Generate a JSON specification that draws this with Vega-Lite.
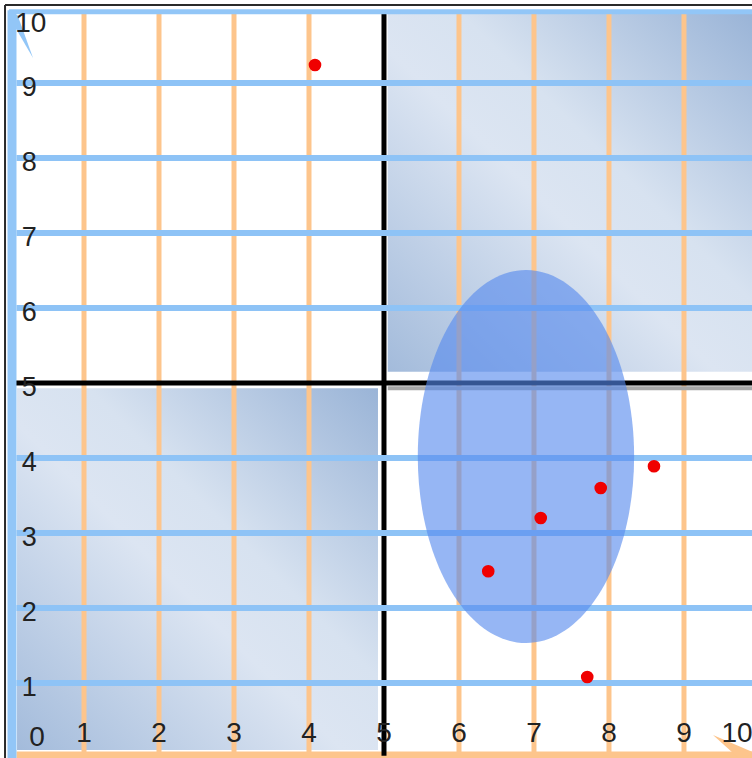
{
  "$schema": "https://vega.github.io/schema/vega-lite/v6.json",
  "width": 752,
  "height": 758,
  "padding": 0,
  "autosize": {"type": "none"},
  "background": "white",
  "config": {"view": {"stroke": null}},
  "layer": [
    {
      "data": {"values": [
        {"quadrant": "I", "x": 5.05, "x2": 9.907, "y": 5.15, "y2": 9.93},
        {"quadrant": "III", "x": 0.107, "x2": 4.92, "y": 0.107, "y2": 4.93}
      ]},
      "mark": {"type": "rect", "color": {"gradient": "linear", "x1": 0, "y1": 1, "x2": 1, "y2": 0,
        "stops": [
          {"offset": 0, "color": "#a3bbdb"},
          {"offset": 0.45, "color": "#dce5f2"},
          {"offset": 0.6, "color": "#d7e2f0"},
          {"offset": 1, "color": "#9ab4d7"}
        ]}},
      "encoding": {
        "x": {"field": "x", "type": "quantitative", "scale": {"domain": [-0.12, 9.907], "nice": false, "zero": false}, "axis": null},
        "y": {"field": "y", "type": "quantitative", "scale": {"domain": [0, 10.107], "nice": false, "zero": false}, "axis": null},
        "x2": {"field": "x2"}, "y2": {"field": "y2"}
      }
    },
    {
      "data": {"values": [{"x": 1}, {"x": 2}, {"x": 3}, {"x": 4}, {"x": 6}, {"x": 7}, {"x": 8}, {"x": 9}]},
      "mark": {"type": "rule", "color": "#fdc58c", "strokeWidth": 5},
      "encoding": {
        "x": {"field": "x", "type": "quantitative"},
        "y": {"datum": 0.05, "type": "quantitative"}, "y2": {"datum": 9.93}
      }
    },
    {
      "data": {"values": [{"y": 0.04}]},
      "mark": {"type": "rule", "color": "#fdc58c", "strokeWidth": 7},
      "encoding": {
        "y": {"field": "y", "type": "quantitative"},
        "x": {"datum": 0.1, "type": "quantitative"}, "x2": {"datum": 9.907}
      }
    },
    {
      "data": {"values": [{"x": 5}]},
      "mark": {"type": "rule", "color": "#000000", "strokeWidth": 5},
      "encoding": {
        "x": {"field": "x", "type": "quantitative"},
        "y": {"datum": 0.03, "type": "quantitative"}, "y2": {"datum": 9.93}
      }
    },
    {
      "data": {"values": [{"y": 4.93}]},
      "mark": {"type": "rule", "color": "#a8a8a8", "strokeWidth": 4},
      "encoding": {
        "y": {"field": "y", "type": "quantitative"},
        "x": {"datum": 5.05, "type": "quantitative"}, "x2": {"datum": 9.907}
      }
    },
    {
      "data": {"values": [{"y": 5}]},
      "mark": {"type": "rule", "color": "#000000", "strokeWidth": 5},
      "encoding": {
        "y": {"field": "y", "type": "quantitative"},
        "x": {"datum": 0.05, "type": "quantitative"}, "x2": {"datum": 9.907}
      }
    },
    {
      "data": {"values": [{"y": 1}, {"y": 2}, {"y": 3}, {"y": 4}, {"y": 6}, {"y": 7}, {"y": 8}, {"y": 9}]},
      "mark": {"type": "rule", "color": "#8ec3f6", "strokeWidth": 6},
      "encoding": {
        "y": {"field": "y", "type": "quantitative"},
        "x": {"datum": 0.1, "type": "quantitative"}, "x2": {"datum": 9.907}
      }
    },
    {
      "data": {"values": [{"y": 9.95}]},
      "mark": {"type": "rule", "color": "#92c6f7", "strokeWidth": 5},
      "encoding": {
        "y": {"field": "y", "type": "quantitative"},
        "x": {"datum": 0, "type": "quantitative"}, "x2": {"datum": 9.907}
      }
    },
    {
      "data": {"values": [{"x": 0.04}]},
      "mark": {"type": "rule", "color": "#92c6f7", "strokeWidth": 9},
      "encoding": {
        "x": {"field": "x", "type": "quantitative"},
        "y": {"datum": 0, "type": "quantitative"}, "y2": {"datum": 9.97}
      }
    },
    {
      "data": {"values": [{"arrow": "y", "x": 0.147, "y": 9.64}]},
      "mark": {"type": "point", "filled": true, "color": "#92c6f7", "opacity": 1, "size": 2500,
        "shape": "M-0.48,-0.8 L-0.1,-0.8 L0.52,0.92 Z"},
      "encoding": {
        "x": {"field": "x", "type": "quantitative"},
        "y": {"field": "y", "type": "quantitative"}
      }
    },
    {
      "data": {"values": [{"arrow": "x", "x": 9.68, "y": 0.133}]},
      "mark": {"type": "point", "filled": true, "color": "#fdc58c", "opacity": 1, "size": 2500,
        "shape": "M-0.88,-0.52 L0.8,0.2 L0.2,0.45 Z"},
      "encoding": {
        "x": {"field": "x", "type": "quantitative"},
        "y": {"field": "y", "type": "quantitative"}
      }
    },
    {
      "data": {"values": [{"x": 6.893, "y": 4.02}]},
      "mark": {"type": "point", "filled": true, "color": "#5589ee", "opacity": 0.62, "size": 139129,
        "shape": "M0.58,0 C0.58,0.5523 0.3203,1 0,1 C-0.3203,1 -0.58,0.5523 -0.58,0 C-0.58,-0.5523 -0.3203,-1 0,-1 C0.3203,-1 0.58,-0.5523 0.58,0 Z"},
      "encoding": {
        "x": {"field": "x", "type": "quantitative"},
        "y": {"field": "y", "type": "quantitative"}
      }
    },
    {
      "data": {"values": [
        {"x": 4.08, "y": 9.24},
        {"x": 6.39, "y": 2.49},
        {"x": 7.09, "y": 3.2},
        {"x": 7.89, "y": 3.6},
        {"x": 8.6, "y": 3.89},
        {"x": 7.71, "y": 1.08}
      ]},
      "mark": {"type": "circle", "color": "#f00000", "opacity": 1, "size": 160},
      "encoding": {
        "x": {"field": "x", "type": "quantitative"},
        "y": {"field": "y", "type": "quantitative"}
      }
    },
    {
      "data": {"values": [{"t": "1", "y": 1}, {"t": "2", "y": 2}, {"t": "3", "y": 3}, {"t": "4", "y": 4}, {"t": "5", "y": 5}, {"t": "6", "y": 6}, {"t": "7", "y": 7}, {"t": "8", "y": 8}, {"t": "9", "y": 9}]},
      "mark": {"type": "text", "font": "Liberation Sans", "fontSize": 27, "color": "#222222", "baseline": "middle", "align": "center", "dy": 5},
      "encoding": {
        "y": {"field": "y", "type": "quantitative"},
        "x": {"datum": 0.27, "type": "quantitative"},
        "text": {"field": "t"}
      }
    },
    {
      "data": {"values": [{"t": "10", "y": 10}]},
      "mark": {"type": "text", "font": "Liberation Sans", "fontSize": 28, "color": "#222222", "baseline": "middle", "align": "center", "dy": 16},
      "encoding": {
        "y": {"field": "y", "type": "quantitative"},
        "x": {"datum": 0.29, "type": "quantitative"},
        "text": {"field": "t"}
      }
    },
    {
      "data": {"values": [{"t": "0", "x": 0}]},
      "mark": {"type": "text", "font": "Liberation Sans", "fontSize": 28, "color": "#222222", "baseline": "middle", "align": "center", "dx": 28, "dy": -20},
      "encoding": {
        "x": {"field": "x", "type": "quantitative"},
        "y": {"datum": 0, "type": "quantitative"},
        "text": {"field": "t"}
      }
    },
    {
      "data": {"values": [{"t": "1", "x": 1}, {"t": "2", "x": 2}, {"t": "3", "x": 3}, {"t": "4", "x": 4}, {"t": "5", "x": 5}, {"t": "6", "x": 6}, {"t": "7", "x": 7}, {"t": "8", "x": 8}, {"t": "9", "x": 9}]},
      "mark": {"type": "text", "font": "Liberation Sans", "fontSize": 28, "color": "#222222", "baseline": "middle", "align": "center", "dy": -24},
      "encoding": {
        "x": {"field": "x", "type": "quantitative"},
        "y": {"datum": 0, "type": "quantitative"},
        "text": {"field": "t"}
      }
    },
    {
      "data": {"values": [{"t": "10", "x": 10}]},
      "mark": {"type": "text", "font": "Liberation Sans", "fontSize": 28, "color": "#222222", "baseline": "middle", "align": "center", "dx": -22, "dy": -24},
      "encoding": {
        "x": {"field": "x", "type": "quantitative"},
        "y": {"datum": 0, "type": "quantitative"},
        "text": {"field": "t"}
      }
    },
    {
      "data": {"values": [{"y": 10.04}]},
      "mark": {"type": "rule", "color": "#2a2a2a", "strokeWidth": 2},
      "encoding": {
        "y": {"field": "y", "type": "quantitative"},
        "x": {"datum": -0.053, "type": "quantitative"}, "x2": {"datum": 9.907}
      }
    },
    {
      "data": {"values": [{"x": -0.053}]},
      "mark": {"type": "rule", "color": "#2a2a2a", "strokeWidth": 2},
      "encoding": {
        "x": {"field": "x", "type": "quantitative"},
        "y": {"datum": 0, "type": "quantitative"}, "y2": {"datum": 10.04}
      }
    }
  ]
}
